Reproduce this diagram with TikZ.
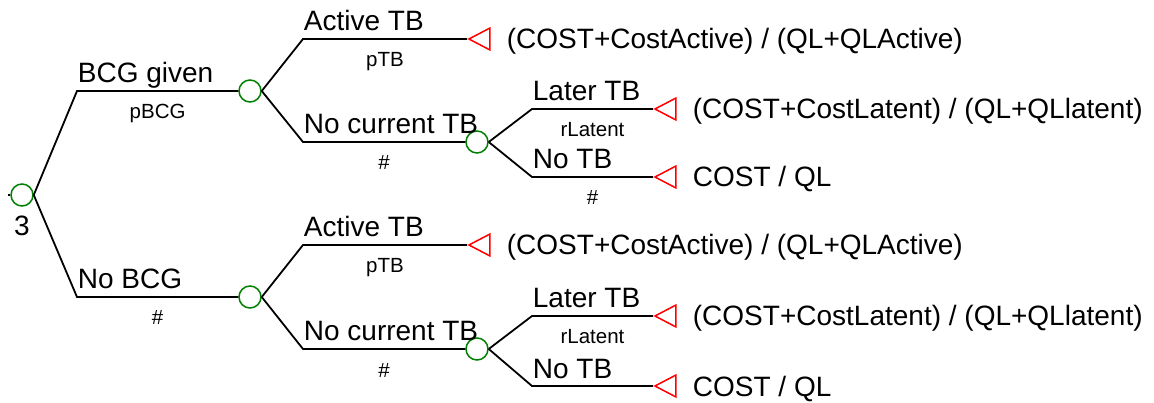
\documentclass[tikz,border=0pt]{standalone}
\usepackage{fontspec}
\setmainfont{Liberation Sans}
\usepackage{tikz}
\usetikzlibrary{shapes.geometric,positioning}
\definecolor{chancecolor}{HTML}{008000}
\definecolor{terminalcolor}{HTML}{FF0000}
\tikzset{
  chancenode/.style={
    circle,
    draw=chancecolor,
    line width=1.5pt,
    minimum size=22pt,
    inner sep=0pt
  },
  terminalnode/.style={
    isosceles triangle,
    shape border rotate=180,
    isosceles triangle stretches,
    draw=terminalcolor,
    line width=1.5pt,
    minimum width=22pt,
    minimum height=21pt,
    inner sep=0pt,
    anchor=apex
  },
  branch/.style={line width=1.8pt,draw=black},
  choicelabel/.style={font=\fontsize{28}{32}\selectfont,anchor=base west,inner sep=0pt,yshift=8pt},
  problabel/.style={font=\fontsize{20.5}{24}\selectfont,anchor=base,inner sep=0pt,yshift=-28pt},
  payofflabel/.style={font=\fontsize{28}{32}\selectfont,anchor=west,inner sep=0pt,text height=20pt,text depth=0pt}
}
\begin{document}
\begin{tikzpicture}[x=1pt,y=-1pt]
  \useasboundingbox (0,0) rectangle (1154,403);
  % chance nodes
  \node[chancenode] (root) at (22,195) {};
  \node[font=\fontsize{28}{32}\selectfont,anchor=base,inner sep=0pt] (rootnum) at (22,236) {3};
  \node[chancenode] (bcg) at (250,91) {};
  \node[chancenode] (nobcg) at (250,297) {};
  \node[chancenode] (bcgnotb) at (477,142) {};
  \node[chancenode] (nobcgnotb) at (477,349) {};
  % terminal nodes
  \node[terminalnode] (bcgact) at (467,39) {};
  \node[terminalnode] (bcglat) at (653,109) {};
  \node[terminalnode] (bcgnone) at (653,177) {};
  \node[terminalnode] (nobcgact) at (467,245) {};
  \node[terminalnode] (nobcglat) at (653,316) {};
  \node[terminalnode] (nobcgnone) at (653,386) {};
  % payoffs
  \node[payofflabel, right=16pt of bcgact] (paybcgact) {(COST+CostActive) / (QL+QLActive)};
  \node[payofflabel, right=16pt of bcglat] (paybcglat) {(COST+CostLatent) / (QL+QLlatent)};
  \node[payofflabel, right=16pt of bcgnone] (paybcgnone) {COST / QL};
  \node[payofflabel, right=16pt of nobcgact] (paynobcgact) {(COST+CostActive) / (QL+QLActive)};
  \node[payofflabel, right=16pt of nobcglat] (paynobcglat) {(COST+CostLatent) / (QL+QLlatent)};
  \node[payofflabel, right=16pt of nobcgnone] (paynobcgnone) {COST / QL};
  % bend points
  \coordinate (stub) at (8,195);
  \coordinate (kbcg) at (77,91);
  \coordinate (knobcg) at (77,297);
  \coordinate (kbcgact) at (303,39);
  \coordinate (kbcgnotb) at (303,142);
  \coordinate (knobcgact) at (303,245);
  \coordinate (knobcgnotb) at (303,349);
  \coordinate (kbcglat) at (532,109);
  \coordinate (kbcgnone) at (532,177);
  \coordinate (knobcglat) at (532,316);
  \coordinate (knobcgnone) at (532,386);
  % branches
  \draw[branch] (stub) -- (root);
  \draw[branch] (root.east) -- (kbcg) -- node[choicelabel,pos=0] {BCG given} node[problabel] {pBCG} (bcg);
  \draw[branch] (root.east) -- (knobcg) -- node[choicelabel,pos=0] {No BCG} node[problabel] {\#} (nobcg);
  \draw[branch] (bcg.east) -- (kbcgact) -- node[choicelabel,pos=0] {Active TB} node[problabel] {pTB} (bcgact.apex);
  \draw[branch] (bcg.east) -- (kbcgnotb) -- node[choicelabel,pos=0] {No current TB} node[problabel] {\#} (bcgnotb);
  \draw[branch] (nobcg.east) -- (knobcgact) -- node[choicelabel,pos=0] {Active TB} node[problabel] {pTB} (nobcgact.apex);
  \draw[branch] (nobcg.east) -- (knobcgnotb) -- node[choicelabel,pos=0] {No current TB} node[problabel] {\#} (nobcgnotb);
  \draw[branch] (bcgnotb.east) -- (kbcglat) -- node[choicelabel,pos=0] {Later TB} node[problabel] {rLatent} (bcglat.apex);
  \draw[branch] (bcgnotb.east) -- (kbcgnone) -- node[choicelabel,pos=0] {No TB} node[problabel] {\#} (bcgnone.apex);
  \draw[branch] (nobcgnotb.east) -- (knobcglat) -- node[choicelabel,pos=0] {Later TB} node[problabel] {rLatent} (nobcglat.apex);
  \draw[branch] (nobcgnotb.east) -- (knobcgnone) -- node[choicelabel,pos=0] {No TB} (nobcgnone.apex);
\end{tikzpicture}
\end{document}
